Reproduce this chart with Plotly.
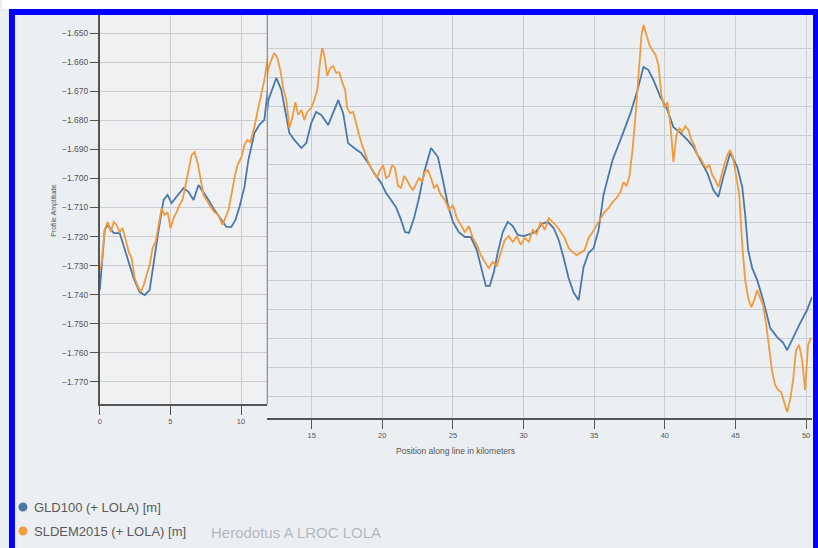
import plotly.graph_objects as go

# ---------------- data (km along profile, amplitude) ----------------
gld_x = [0.00, 0.14, 0.35, 0.56, 0.99, 1.41, 1.91, 2.40, 2.82, 3.18, 3.53, 3.81, 4.17, 4.52, 4.80,
         5.08, 5.44, 5.93, 6.29, 6.64, 6.99, 7.34, 7.70, 8.12, 8.62, 8.97, 9.32, 9.60, 9.89, 10.24,
         10.52, 10.95, 11.30, 11.65, 11.94, 12.50, 12.85, 13.21, 13.42, 13.77, 14.27, 14.62, 14.97,
         15.32, 15.68, 16.17, 16.53, 16.88, 17.23, 17.58, 18.01, 18.50, 19.00, 19.42, 19.92, 20.27,
         20.62, 20.97, 21.33, 21.61, 21.89, 22.25, 22.60, 22.95, 23.45, 23.94, 24.29, 24.65, 25.00,
         25.42, 25.85, 26.27, 26.69, 26.98, 27.33, 27.61, 27.90, 28.18, 28.53, 28.88, 29.24, 29.59,
         30.01, 30.44, 30.86, 31.29, 31.71, 32.13, 32.49, 32.84, 33.19, 33.55, 33.90, 34.25, 34.60,
         34.96, 35.31, 35.66, 36.30, 36.86, 37.57, 38.07, 38.49, 38.84, 39.19, 39.69, 40.18, 40.61,
         41.10, 41.60, 42.02, 42.51, 43.01, 43.43, 43.79, 44.14, 44.63, 45.13, 45.48, 45.69, 45.90,
         46.19, 46.54, 46.96, 47.46, 47.95, 48.38, 48.66, 49.08, 49.58, 50.07, 50.42]
gld_y = [-1.7384, -1.7305, -1.7177, -1.7160, -1.7188, -1.7188, -1.7263, -1.7343, -1.7391, -1.7401,
         -1.7384, -1.7291, -1.7177, -1.7074, -1.7057, -1.7085, -1.7064, -1.7033, -1.7047, -1.7074,
         -1.7023, -1.7047, -1.7074, -1.7109, -1.7143, -1.7167, -1.7167, -1.7143, -1.7098, -1.7030,
         -1.6937, -1.6844, -1.6816, -1.6799, -1.6679, -1.6603, -1.6644, -1.6737, -1.6792, -1.6816,
         -1.6844, -1.6827, -1.6758, -1.6720, -1.6730, -1.6765, -1.6724, -1.6679, -1.6724, -1.6827,
         -1.6844, -1.6861, -1.6895, -1.6930, -1.6964, -1.6999, -1.7023, -1.7047, -1.7091, -1.7133,
         -1.7136, -1.7085, -1.7016, -1.6930, -1.6844, -1.6875, -1.6954, -1.7040, -1.7098, -1.7133,
         -1.7150, -1.7150, -1.7195, -1.7250, -1.7318, -1.7318, -1.7270, -1.7202, -1.7133, -1.7098,
         -1.7112, -1.7143, -1.7147, -1.7140, -1.7133, -1.7105, -1.7098, -1.7119, -1.7160, -1.7222,
         -1.7291, -1.7342, -1.7367, -1.7253, -1.7205, -1.7188, -1.7126, -1.7005, -1.6885, -1.6816,
         -1.6724, -1.6644, -1.6565, -1.6576, -1.6610, -1.6669, -1.6713, -1.6772, -1.6792, -1.6816,
         -1.6840, -1.6885, -1.6930, -1.6988, -1.7012, -1.6944, -1.6861, -1.6909, -1.6978, -1.7074,
         -1.7195, -1.7257, -1.7298, -1.7367, -1.7463, -1.7494, -1.7514, -1.7539, -1.7494, -1.7446,
         -1.7401, -1.7356]

sldem_x = [0.00, 0.14, 0.35, 0.56, 0.78, 0.99, 1.20, 1.41, 1.62, 1.84, 2.05, 2.26, 2.47, 2.68, 2.90,
           3.11, 3.32, 3.53, 3.74, 3.95, 4.17, 4.38, 4.59, 4.80, 5.01, 5.23, 5.44, 5.65, 5.86, 6.07,
           6.29, 6.50, 6.71, 6.92, 7.13, 7.34, 7.56, 7.84, 8.12, 8.40, 8.69, 8.90, 9.11, 9.32, 9.53,
           9.75, 10.03, 10.24, 10.45, 10.66, 10.95, 11.16, 11.44, 11.65, 11.94, 12.15, 12.36, 12.57,
           12.78, 12.99, 13.21, 13.42, 13.63, 13.84, 14.05, 14.27, 14.48, 14.69, 14.97, 15.18, 15.40,
           15.61, 15.75, 15.89, 16.10, 16.31, 16.53, 16.74, 16.95, 17.16, 17.37, 17.51, 17.73, 17.94,
           18.15, 18.36, 18.57, 18.79, 19.00, 19.21, 19.42, 19.63, 19.84, 20.06, 20.27, 20.48, 20.69,
           20.90, 21.12, 21.33, 21.54, 21.75, 21.96, 22.18, 22.39, 22.60, 22.81, 23.02, 23.23, 23.45,
           23.66, 23.87, 24.15, 24.44, 24.72, 25.00, 25.28, 25.56, 25.85, 26.13, 26.41, 26.69, 26.98,
           27.26, 27.54, 27.82, 28.11, 28.39, 28.67, 28.95, 29.24, 29.52, 29.80, 30.08, 30.37, 30.65,
           30.93, 31.21, 31.50, 31.78, 32.06, 32.34, 32.63, 32.91, 33.19, 33.47, 33.76, 34.04, 34.32,
           34.60, 34.89, 35.17, 35.45, 35.73, 36.02, 36.30, 36.58, 36.86, 37.08, 37.29, 37.50, 37.71,
           37.92, 38.14, 38.35, 38.49, 38.70, 38.91, 39.12, 39.34, 39.55, 39.76, 39.97, 40.18, 40.40,
           40.61, 40.82, 41.03, 41.24, 41.45, 41.67, 41.88, 42.09, 42.30, 42.51, 42.73, 42.94, 43.15,
           43.36, 43.57, 43.79, 44.00, 44.21, 44.42, 44.63, 44.84, 45.06, 45.27, 45.48, 45.69, 45.90,
           46.12, 46.33, 46.54, 46.75, 46.96, 47.18, 47.39, 47.60, 47.81, 48.02, 48.23, 48.45, 48.66,
           48.87, 49.08, 49.29, 49.51, 49.72, 49.93, 50.14, 50.35]
sldem_y = [-1.7315, -1.7288, -1.7177, -1.7150, -1.7184, -1.7150, -1.7160, -1.7184, -1.7171, -1.7212,
           -1.7253, -1.7274, -1.7343, -1.7370, -1.7391, -1.7367, -1.7332, -1.7298, -1.7239, -1.7219,
           -1.7160, -1.7102, -1.7126, -1.7116, -1.7171, -1.7136, -1.7116, -1.7091, -1.7074, -1.7023,
           -1.6964, -1.6920, -1.6910, -1.6944, -1.6999, -1.7057, -1.7074, -1.7098, -1.7116, -1.7126,
           -1.7160, -1.7136, -1.7109, -1.7057, -1.6999, -1.6954, -1.6926, -1.6885, -1.6868, -1.6875,
           -1.6823, -1.6772, -1.6703, -1.6662, -1.6569, -1.6541, -1.6517, -1.6534, -1.6576, -1.6638,
           -1.6679, -1.6775, -1.6741, -1.6686, -1.6730, -1.6713, -1.6748, -1.6720, -1.6706, -1.6679,
           -1.6644, -1.6541, -1.6500, -1.6524, -1.6596, -1.6569, -1.6562, -1.6586, -1.6583, -1.6617,
           -1.6644, -1.6706, -1.6724, -1.6720, -1.6765, -1.6799, -1.6834, -1.6868, -1.6892, -1.6913,
           -1.6930, -1.6947, -1.6920, -1.6902, -1.6947, -1.6940, -1.6902, -1.6913, -1.6975, -1.6981,
           -1.6940, -1.6954, -1.6975, -1.6988, -1.6968, -1.6947, -1.6961, -1.6926, -1.6920, -1.6947,
           -1.6981, -1.6971, -1.7006, -1.7023, -1.7057, -1.7040, -1.7085, -1.7109, -1.7133, -1.7112,
           -1.7153, -1.7177, -1.7212, -1.7236, -1.7257, -1.7236, -1.7250, -1.7202, -1.7160, -1.7147,
           -1.7167, -1.7147, -1.7177, -1.7153, -1.7167, -1.7126, -1.7140, -1.7098, -1.7126, -1.7085,
           -1.7098, -1.7112, -1.7133, -1.7153, -1.7188, -1.7202, -1.7212, -1.7202, -1.7195, -1.7153,
           -1.7133, -1.7109, -1.7085, -1.7064, -1.7050, -1.7030, -1.7016, -1.6995, -1.6961, -1.6975,
           -1.6940, -1.6851, -1.6737, -1.6576, -1.6455, -1.6421, -1.6455, -1.6490, -1.6507, -1.6524,
           -1.6558, -1.6662, -1.6706, -1.6686, -1.6765, -1.6892, -1.6799, -1.6775, -1.6789, -1.6768,
           -1.6782, -1.6816, -1.6834, -1.6868, -1.6878, -1.6899, -1.6913, -1.6902, -1.6937, -1.6954,
           -1.6978, -1.6937, -1.6902, -1.6868, -1.6851, -1.6878, -1.6937, -1.7006, -1.7178, -1.7298,
           -1.7360, -1.7391, -1.7367, -1.7332, -1.7360, -1.7384, -1.7453, -1.7539, -1.7614, -1.7659,
           -1.7676, -1.7683, -1.7717, -1.7752, -1.7710, -1.7642, -1.7539, -1.7521, -1.7573, -1.7676,
           -1.7521, -1.7497]

y_ticks = [-1.65, -1.66, -1.67, -1.68, -1.69, -1.70, -1.71, -1.72, -1.73, -1.74, -1.75, -1.76, -1.77]
x_ticks_left = [0, 5, 10]
x_ticks_right = [15, 20, 25, 30, 35, 40, 45, 50]

series_names = ["GLD100 (+ LOLA) [m]", "SLDEM2015 (+ LOLA) [m]"]
series_colors = ["#4a78a8", "#f29a3c"]
note_text = "Herodotus A LROC LOLA"
x_title = "Position along line in kilometers"
y_title = "Profile Amplitude"

# ---------------- geometry helpers (pixel -> paper) ----------------
W, H = 818, 548
SPLIT = 11.864  # km where the inset panel ends


def px(x):
    return x / W


def py(y):
    return 1 - y / H


def split(xs, ys):
    lx, ly, rx, ry = [], [], [], []
    for a, b in zip(xs, ys):
        if a <= SPLIT + 0.2:
            lx.append(a); ly.append(b)
        if a >= SPLIT - 0.3:
            rx.append(a); ry.append(b)
    return lx, ly, rx, ry


fig = go.Figure()
for xs, ys, name, col in [(gld_x, gld_y, series_names[0], series_colors[0]),
                          (sldem_x, sldem_y, series_names[1], series_colors[1])]:
    lx, ly, rx, ry = split(xs, ys)
    fig.add_trace(go.Scatter(x=lx, y=ly, mode="lines", name=name, line=dict(color=col, width=1.8),
                             xaxis="x2", yaxis="y", showlegend=False, hoverinfo="skip"))
    fig.add_trace(go.Scatter(x=rx, y=ry, mode="lines", name=name, line=dict(color=col, width=1.8),
                             xaxis="x", yaxis="y2", showlegend=False, hoverinfo="skip"))

grid = "#c9cdd2"
axis_col = "#555555"
FONT = "Liberation Sans, Arial"
tick_font = dict(family=FONT, size=7.5, color="#555")

fig.update_layout(
    width=W, height=H,
    margin=dict(l=0, r=0, t=0, b=0),
    paper_bgcolor="#eceff2",
    plot_bgcolor="rgba(0,0,0,0)",
    font=dict(family=FONT, color="#555"),
    showlegend=False,
    xaxis=dict(domain=[px(266), px(812)], anchor="y2", range=[SPLIT, 50.42],
               tickvals=x_ticks_right, showline=True, linecolor=axis_col, linewidth=1.5,
               ticks="outside", ticklen=9, tickcolor=axis_col, showgrid=True, gridcolor=grid,
               zeroline=False, tickfont=tick_font),
    yaxis2=dict(domain=[py(418), py(15)], anchor="x",
                range=[-1.650 - (418 - 48) / 2908, -1.650 + (48 - 15) / 2908],
                tickvals=y_ticks, showticklabels=False, showgrid=True, gridcolor=grid,
                zeroline=False, showline=False, ticks=""),
    xaxis2=dict(domain=[px(98), px(266)], anchor="y", range=[0, SPLIT],
                tickvals=x_ticks_left, showline=True, linecolor=axis_col, linewidth=1.5,
                ticks="outside", ticklen=9, tickcolor=axis_col, showgrid=True, gridcolor=grid,
                zeroline=False, tickfont=tick_font),
    yaxis=dict(domain=[py(404), py(15)], anchor="x2",
               range=[-1.650 - (404 - 33) / 2908, -1.650 + (33 - 15) / 2908],
               tickvals=y_ticks, tickformat=".3f", showline=True, linecolor=axis_col,
               linewidth=1.5, ticks="outside", ticklen=8, tickcolor=axis_col, showgrid=True,
               gridcolor=grid, zeroline=False, tickfont=dict(family=FONT, size=8.5, color="#555")),
)

shapes = [
    # inset panel background and right border
    dict(type="rect", xref="paper", yref="paper", x0=px(98), x1=px(266), y0=py(404), y1=py(15),
         fillcolor="#eff1f3", line=dict(width=0), layer="below"),
    dict(type="line", xref="paper", yref="paper", x0=px(266), x1=px(266), y0=py(404), y1=py(15),
         line=dict(color="#8a8d90", width=1.2), layer="above"),
    # white strip on top and blue frame
    dict(type="rect", xref="paper", yref="paper", x0=0, x1=1, y0=py(9), y1=1,
         fillcolor="#ffffff", line=dict(width=0), layer="above"),
    dict(type="rect", xref="paper", yref="paper", x0=px(7), x1=1, y0=py(15), y1=py(9),
         fillcolor="#0000ff", line=dict(width=0), layer="above"),
    dict(type="rect", xref="paper", yref="paper", x0=px(7), x1=px(13), y0=0, y1=py(9),
         fillcolor="#0000ff", line=dict(width=0), layer="above"),
    dict(type="rect", xref="paper", yref="paper", x0=px(813), x1=1, y0=0, y1=py(9),
         fillcolor="#0000ff", line=dict(width=0), layer="above"),
]

# legend (marker dots + labels)
legend_rows = [507, 531]
for (name, col, row) in zip(series_names, series_colors, legend_rows):
    shapes.append(dict(type="circle", xref="paper", yref="paper",
                       x0=px(16.5), x1=px(25.5), y0=py(row + 4.5), y1=py(row - 4.5),
                       fillcolor=col, line=dict(width=0), layer="above"))
    fig.add_annotation(text=name, xref="paper", yref="paper", x=px(30), y=py(row),
                       xanchor="left", yanchor="middle", showarrow=False,
                       font=dict(family=FONT, size=13, color="#5a5a5a"))
fig.update_layout(shapes=shapes)

fig.add_annotation(text=x_title, xref="paper", yref="paper", x=px(455), y=py(451),
                   xanchor="center", yanchor="middle", showarrow=False,
                   font=dict(family=FONT, size=8.5, color="#555"))
fig.add_annotation(text=y_title, xref="paper", yref="paper", x=px(52), y=py(210),
                   xanchor="center", yanchor="middle", textangle=-90, showarrow=False,
                   font=dict(family=FONT, size=7, color="#555"))
fig.add_annotation(text=note_text, xref="paper", yref="paper", x=px(208), y=py(532),
                   xanchor="left", yanchor="middle", showarrow=False,
                   font=dict(family=FONT, size=15, color="#b5b9bd"))

fig.write_html("out.html")
